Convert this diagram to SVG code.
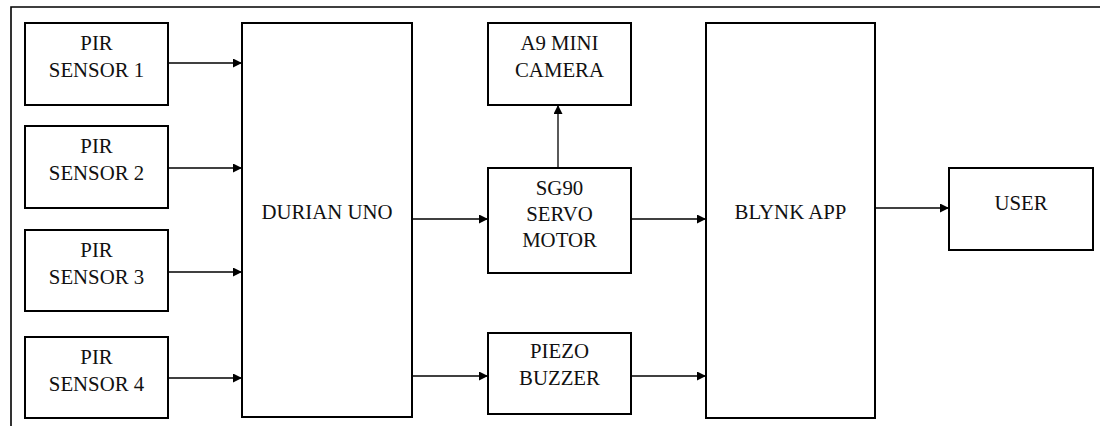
<svg xmlns="http://www.w3.org/2000/svg" width="1100" height="426" viewBox="0 0 1100 426">
<style>
.box{fill:#fff;stroke:#000;stroke-width:2}
text{font-family:'Liberation Serif','Times New Roman',serif;font-size:20.8px;fill:#111;text-anchor:middle}
.c{stroke:#000;stroke-width:1.3;fill:none;marker-end:url(#ah)}
</style>
<defs>
<marker id="ah" markerWidth="9" markerHeight="9" refX="9" refY="4.5" orient="auto" markerUnits="userSpaceOnUse">
<path d="M0,0 L9,4.5 L0,9 Z" fill="#000"/>
</marker>
</defs>
<rect width="1100" height="426" fill="#fff"/>
<path d="M11,426 L11,7 L1100,7" stroke="#000" stroke-width="1.6" fill="none"/>
<g id="pir1"><rect class="box" x="25" y="23" width="143" height="82"/><text x="96.5" y="50">PIR</text><text x="96.5" y="77">SENSOR 1</text></g>
<g id="pir2"><rect class="box" x="25" y="126" width="143" height="82"/><text x="96.5" y="153">PIR</text><text x="96.5" y="180">SENSOR 2</text></g>
<g id="pir3"><rect class="box" x="25" y="230" width="143" height="81"/><text x="96.5" y="257">PIR</text><text x="96.5" y="284">SENSOR 3</text></g>
<g id="pir4"><rect class="box" x="25" y="337" width="143" height="81"/><text x="96.5" y="364">PIR</text><text x="96.5" y="391">SENSOR 4</text></g>
<g id="durian"><rect class="box" x="242" y="23" width="170" height="394"/><text x="327" y="219">DURIAN UNO</text></g>
<g id="camera"><rect class="box" x="488" y="23" width="143" height="82"/><text x="559.5" y="50">A9 MINI</text><text x="559.5" y="77">CAMERA</text></g>
<g id="servo"><rect class="box" x="488" y="168" width="143" height="105"/><text x="559.5" y="195">SG90</text><text x="559.5" y="221">SERVO</text><text x="559.5" y="247">MOTOR</text></g>
<g id="buzzer"><rect class="box" x="488" y="333" width="143" height="81"/><text x="559.5" y="358">PIEZO</text><text x="559.5" y="385">BUZZER</text></g>
<g id="blynk"><rect class="box" x="706" y="23" width="169" height="395"/><text x="790.5" y="219">BLYNK APP</text></g>
<g id="user"><rect class="box" x="949" y="168" width="144" height="82"/><text x="1021" y="210">USER</text></g>
<g id="connectors">
<path class="c" d="M168,63 L242,63"/>
<path class="c" d="M168,168 L242,168"/>
<path class="c" d="M168,272 L242,272"/>
<path class="c" d="M168,378 L242,378"/>
<path class="c" d="M412,219 L488,219"/>
<path class="c" d="M412,376 L488,376"/>
<path class="c" d="M558,168 L558,105"/>
<path class="c" d="M631,219 L706,219"/>
<path class="c" d="M631,376 L706,376"/>
<path class="c" d="M875,208 L949,208"/>
</g>
</svg>
